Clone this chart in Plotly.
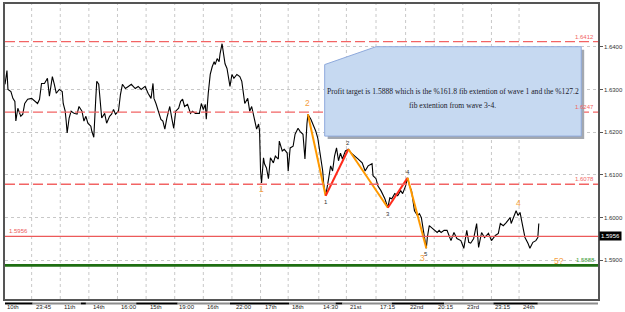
import plotly.graph_objects as go

# ---------------- data ----------------
bar = [0,2,3,6,8,10,11,13,16,18,20,23,27,30,33,35,37,40,43,45,48,50,52,55,58,59,61,62,63,65,67,70,73,75,78,80,82,84,87,88,90,92,93,95,97,98,101,103,106,108,110,112,115,117,119,122,125,128,132,135,138,142,145,148,150,151,153,155,158,160,162,164,167,169,171,173,176,178,180,182,185,188,190,193,197,199,201,203,204,206,208,210,212,213,215,217,218,220,222,223,225,227,228,230,232,235,238,240,242,243,246,248,250,252,253,255,257,258,259,260,262,263,265,267,269,272,274,277,278,281,283,286,287,289,292,294,297,299,302,304,306,307,310,313,315,317,320,322,323,325,328,330,332,334,336,338,340,342,345,348,351,355,358,362,365,368,372,373,376,378,381,385,388,390,392,395,398,401,403,406,408,410,412,415,418,420,422,424,427,428,430,432,435,438,440,442,445,448,450,452,455,458,462,465,468,470,472,475,478,480,483,486,490,493,497,500,502,505,508,512,513,517,518,520,522,524,527,530,532,535,538,540,541]
price = [1.6312,1.6344,1.6300,1.6295,1.6279,1.6272,1.6226,1.6256,1.6237,1.6242,1.6267,1.6277,1.6279,1.6272,1.6267,1.6277,1.6314,1.6314,1.6326,1.6284,1.6330,1.6312,1.6291,1.6300,1.6295,1.6267,1.6249,1.6226,1.6198,1.6233,1.6249,1.6244,1.6242,1.6260,1.6249,1.6226,1.6237,1.6221,1.6214,1.6202,1.6188,1.6279,1.6319,1.6312,1.6267,1.6233,1.6244,1.6221,1.6237,1.6242,1.6253,1.6242,1.6249,1.6288,1.6312,1.6302,1.6307,1.6312,1.6302,1.6307,1.6300,1.6307,1.6291,1.6279,1.6314,1.6279,1.6267,1.6253,1.6230,1.6226,1.6207,1.6233,1.6260,1.6233,1.6209,1.6249,1.6256,1.6272,1.6277,1.6260,1.6265,1.6244,1.6249,1.6244,1.6244,1.6267,1.6253,1.6265,1.6230,1.6291,1.6335,1.6353,1.6365,1.6358,1.6372,1.6365,1.6384,1.6407,1.6372,1.6360,1.6349,1.6323,1.6307,1.6335,1.6326,1.6335,1.6330,1.6319,1.6288,1.6267,1.6279,1.6249,1.6260,1.6237,1.6226,1.6207,1.6219,1.6202,1.6109,1.6081,1.6140,1.6126,1.6116,1.6091,1.6140,1.6128,1.6144,1.6137,1.6179,1.6156,1.6160,1.6151,1.6109,1.6163,1.6167,1.6195,1.6209,1.6202,1.6195,1.6137,1.6219,1.6242,1.6230,1.6214,1.6202,1.6186,1.6144,1.6109,1.6079,1.6051,1.6091,1.6121,1.6109,1.6144,1.6163,1.6133,1.6151,1.6137,1.6156,1.6160,1.6151,1.6144,1.6137,1.6128,1.6109,1.6121,1.6126,1.6098,1.6091,1.6074,1.6063,1.6044,1.6023,1.6046,1.6044,1.6056,1.6051,1.6063,1.6056,1.6074,1.6093,1.6074,1.6063,1.6016,1.6005,1.6009,1.6000,1.5970,1.5928,1.5953,1.5981,1.5977,1.5970,1.5965,1.5970,1.5965,1.5970,1.5970,1.5958,1.5946,1.5965,1.5951,1.5946,1.5928,1.5970,1.5942,1.5940,1.5951,1.5986,1.5930,1.5965,1.5953,1.5963,1.5946,1.5958,1.5963,1.5986,1.5981,1.5988,1.6000,1.5986,1.6009,1.6016,1.6005,1.6012,1.5988,1.5953,1.5940,1.5928,1.5942,1.5946,1.5953,1.5986]

wave_bar = [307, 325, 348, 388, 408, 427]
wave_price = [1.6242, 1.6051, 1.6160, 1.6023, 1.6093, 1.5928]
wave_small_text = ["", "1", "2", "3", "4", "5"]

big_label_text = ["1", "2", "3", "4", "5?"]
big_label_bar = [260, 307, 423, 520, 561]
big_label_price = [1.6068, 1.6268, 1.5905, 1.6035, 1.5898]

dashed_levels = [1.6412, 1.6247, 1.6078]
current_level = 1.5956
target_level = 1.5888

ytick_vals = [1.59, 1.60, 1.61, 1.62, 1.63, 1.64]
ytick_text = ["1.5900", "1.6000", "1.6100", "1.6200", "1.6300", "1.6400"]

xlabel_bar = [0, 29, 58, 87, 116, 145, 174, 203, 232, 261, 289, 320, 348, 378, 408, 437, 466, 495, 523]
xlabel_text = ["10th", "23:45", "11th", "14th", "16:00", "15th", "19:00", "16th", "22:00", "17th",
               "18th", "14:30", "21st", "17:15", "22nd", "20:15", "23rd", "23:15", "24th"]

day_edges = [0, 28, 77, 82, 133, 175, 228, 288, 335, 342, 392, 445, 495, 540, 601]

note_line1 = "Profit target is 1.5888 which is the %161.8 fib extention of wave 1 and the %127.2"
note_line2 = "fib extention from wave 3-4."

# ---------------- figure ----------------
W, H = 625, 312
ML, MR, MT, MB = 5, 19, 2, 13
PW, PH = W - ML - MR, H - MT - MB
XR = [0, 601]
YR = [1.58093, 1.6500]


def px_x(p):
    return (p - ML) / PW


def px_y(p):
    return (H - MB - p) / PH


fig = go.Figure()

fig.add_trace(go.Scatter(x=bar, y=price, mode="lines",
                         line=dict(color="#000000", width=1.1), hoverinfo="skip"))

seg_colors = ["#FF9900", "#FF2A1A", "#FF9900", "#FF2A1A", "#FF9900"]
for i in range(len(wave_bar) - 1):
    fig.add_trace(go.Scatter(x=wave_bar[i:i + 2], y=wave_price[i:i + 2], mode="lines",
                             line=dict(color=seg_colors[i], width=2), hoverinfo="skip"))

shapes = []
for lv in dashed_levels:
    shapes.append(dict(type="line", xref="paper", x0=0, x1=1, yref="y", y0=lv, y1=lv,
                       line=dict(color="#F26464", width=1.3, dash="10px,4px"), layer="above"))
shapes.append(dict(type="line", xref="paper", x0=0, x1=1, yref="y", y0=current_level, y1=current_level,
                   line=dict(color="#EC5A5A", width=1.2), layer="above"))
shapes.append(dict(type="line", xref="paper", x0=0, x1=1, yref="y", y0=target_level, y1=target_level,
                   line=dict(color="#1E6E12", width=2.6), layer="above"))

# note box: "card" shape (top-left corner cut) with drop shadow
bx0, bx1, by0, by1 = px_x(329), px_x(589), px_y(135), px_y(45)
fx, fy = px_x(381), px_y(63)
sx, sy = px_x(332) - bx0, px_y(138) - by0
shapes.append(dict(type="path", xref="paper", yref="paper",
                   path=f"M {bx0+sx},{fy+sy} L {fx+sx},{by1+sy} L {bx1+sx},{by1+sy} L {bx1+sx},{by0+sy} L {bx0+sx},{by0+sy} Z",
                   fillcolor="#A3A8B0", line=dict(width=0), layer="above"))
shapes.append(dict(type="path", xref="paper", yref="paper",
                   path=f"M {bx0},{fy} L {fx},{by1} L {bx1},{by1} L {bx1},{by0} L {bx0},{by0} Z",
                   fillcolor="#C6D9F1", line=dict(color="#8FAADC", width=1), layer="above"))

# vertical grid lines
for b in xlabel_bar[1:]:
    shapes.append(dict(type="line", xref="x", x0=b - 2, x1=b - 2, yref="paper", y0=0, y1=1,
                       line=dict(color="#C8C8C8", width=1, dash="dot"), layer="below"))

# day bar under the plot
for i in range(len(day_edges) - 1):
    shapes.append(dict(type="line", xref="x", x0=day_edges[i], x1=day_edges[i + 1],
                       yref="paper", y0=px_y(303.5), y1=px_y(303.5),
                       line=dict(color="#000000" if i % 2 == 0 else "#8C8C8C", width=2)))

ann = []
small = dict(family="Liberation Sans, Arial, sans-serif", size=6)
for lv in dashed_levels:
    ann.append(dict(xref="paper", x=px_x(604), yref="y", y=lv, text=f"{lv:.4f}", showarrow=False,
                    xanchor="right", yanchor="bottom", yshift=0, font=dict(small, color="#F26464")))
ann.append(dict(xref="paper", x=px_x(7), yref="y", y=current_level, text=f"{current_level:.4f}",
                showarrow=False, xanchor="left", yanchor="bottom", font=dict(small, color="#EC5A5A")))
ann.append(dict(xref="paper", x=px_x(605), yref="y", y=target_level, text=f"{target_level:.4f}",
                showarrow=False, xanchor="right", yanchor="bottom", yshift=0,
                font=dict(small, color="#3E9E3E")))
ann.append(dict(xref="paper", x=px_x(607), yref="y", y=current_level, text=f"{current_level:.4f}",
                showarrow=False, xanchor="left", yanchor="middle", bgcolor="#000000",
                borderpad=1, font=dict(small, color="#FFFFFF")))

for t, b, p in zip(big_label_text, big_label_bar, big_label_price):
    ann.append(dict(x=b, y=p, text=t, showarrow=False, xanchor="center", yanchor="middle",
                    font=dict(family="Liberation Sans, Arial, sans-serif", size=8.5, color="#F4A040")))

for t, b, p, i in zip(wave_small_text, wave_bar, wave_price, range(len(wave_bar))):
    if not t:
        continue
    is_low = i % 2 == 1
    ann.append(dict(x=b, y=p, text=t, showarrow=False, xanchor="center",
                    yanchor="top" if is_low else "bottom", yshift=-1 if is_low else 1,
                    font=dict(small, color="#333333")))

for t, b in zip(xlabel_text, xlabel_bar):
    ann.append(dict(x=b, xref="x", y=px_y(307.5), yref="paper", text=t, showarrow=False,
                    xanchor="left", yanchor="middle", font=dict(small, color="#222222")))

serif = dict(family="Liberation Serif, Times New Roman, serif", size=7.6, color="#1A1A2A")
ann.append(dict(xref="paper", yref="paper", x=(bx0 + bx1) / 2, y=px_y(90), text=note_line1,
                showarrow=False, xanchor="center", yanchor="middle", font=serif))
ann.append(dict(xref="paper", yref="paper", x=(bx0 + bx1) / 2, y=px_y(104), text=note_line2,
                showarrow=False, xanchor="center", yanchor="middle", font=serif))

fig.update_layout(
    width=W, height=H, margin=dict(l=ML, r=MR, t=MT, b=MB, pad=0),
    paper_bgcolor="#FFFFFF", plot_bgcolor="#FFFFFF", showlegend=False,
    shapes=shapes, annotations=ann,
    xaxis=dict(range=XR, showgrid=False, zeroline=False, showticklabels=False, ticks="",
               showline=True, mirror=True, linecolor="#555555", linewidth=1.5, fixedrange=True),
    yaxis=dict(range=YR, side="right", tickvals=ytick_vals, ticktext=ytick_text,
               ticks="outside", ticklen=3, tickcolor="#555555",
               tickfont=dict(small, color="#333333"),
               showgrid=True, gridcolor="#C8C8C8", griddash="dot", gridwidth=1, zeroline=False,
               showline=True, mirror=True, linecolor="#555555", linewidth=1.5, fixedrange=True),
)

fig.write_html("out.html")
